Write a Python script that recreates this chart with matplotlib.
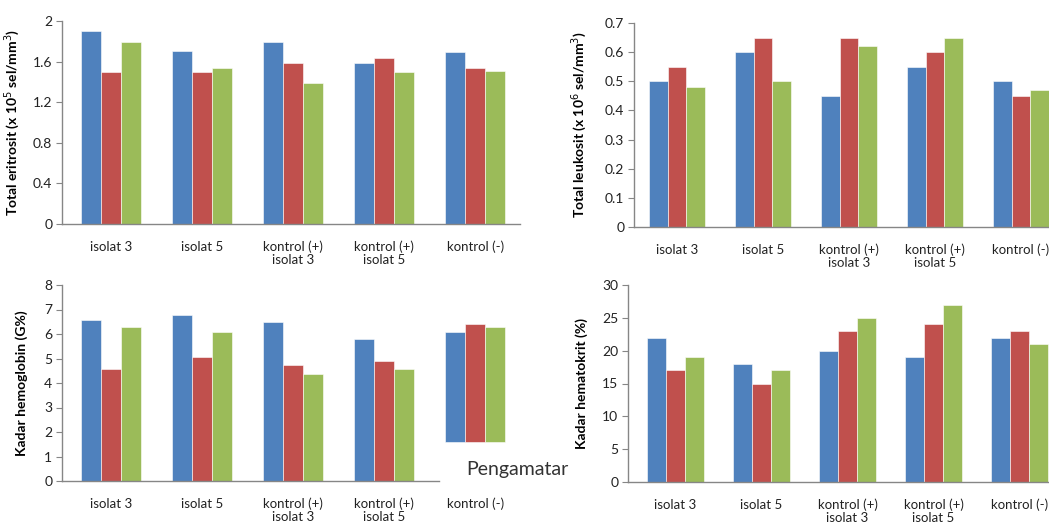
import numpy as np
import matplotlib
matplotlib.use("Agg")
import matplotlib.pyplot as plt
from matplotlib.patches import Rectangle

categories = ["isolat 3", "isolat 5", "kontrol (+)\nisolat 3", "kontrol (+)\nisolat 5", "kontrol (-)"]

# total eritrosit (x 10^5 sel/mm3)
eri_blue = [1.9, 1.7, 1.79, 1.59, 1.69]
eri_red = [1.5, 1.5, 1.59, 1.64, 1.54]
eri_green = [1.79, 1.54, 1.39, 1.5, 1.51]

# total leukosit (x 10^6 sel/mm3)
leu_blue = [0.5, 0.6, 0.45, 0.55, 0.5]
leu_red = [0.55, 0.65, 0.65, 0.6, 0.45]
leu_green = [0.48, 0.5, 0.62, 0.65, 0.47]

# kadar hemoglobin (G%)
hb_blue = [6.57, 6.77, 6.47, 5.79, 6.09]
hb_red = [4.59, 5.05, 4.75, 4.89, 6.39]
hb_green = [6.27, 6.09, 4.37, 4.59, 6.27]
hb_base = [0, 0, 0, 0, 1.6]   # last group is a pasted piece floating above the axis

# kadar hematokrit (%)
ht_blue = [22, 18, 20, 19, 22]
ht_red = [17, 15, 23, 24, 23]
ht_green = [19, 17, 25, 27, 21]

colors = ["#4F81BD", "#C0504D", "#9BBB59"]
W, H = 1049, 529

plt.rcParams["font.family"] = ["Lato", "DejaVu Sans"]

fig = plt.figure(figsize=(W / 100, H / 100), dpi=100)


def make_ax(left, right, top, bottom, z=0):
    ax = fig.add_axes([left / W, 1 - bottom / H, (right - left) / W, (bottom - top) / H])
    ax.set_zorder(z)
    ax.patch.set_alpha(0)
    return ax


def draw(ax, series, ylim, yticks, ylabel, xlim, labelx, base=None, fmt=None):
    x = np.arange(len(categories))
    bw = 0.22
    for i, vals in enumerate(series):
        vals = np.array(vals, dtype=float)
        b = np.zeros_like(vals) if base is None else np.array(base, dtype=float)
        ax.bar(x + (i - 1) * bw, vals - b, bw, bottom=b, color=colors[i],
               edgecolor="white", linewidth=0.4, zorder=2)
    ax.set_xlim(*xlim)
    ax.set_ylim(*ylim)
    ax.set_yticks(yticks)
    if fmt:
        ax.set_yticklabels([fmt(v) for v in yticks])
    ax.set_xticks(x)
    ax.set_xticklabels(categories, fontsize=9.5, color="#222222", linespacing=1.1)
    ax.tick_params(axis="x", length=0, pad=12)
    ax.tick_params(axis="y", length=4, width=0.8, color="#868686", labelsize=10,
                   labelcolor="#222222", pad=3)
    for s in ["top", "right"]:
        ax.spines[s].set_visible(False)
    for s in ["left", "bottom"]:
        ax.spines[s].set_color("#868686")
        ax.spines[s].set_linewidth(1.0)
    ax.set_ylabel(ylabel, fontsize=10, fontweight="bold", color="black")
    ax.yaxis.set_label_coords(labelx, 0.5)


def gfmt(v):
    return ("%g" % v)


ax1 = make_ax(62, 520, 21, 224)
draw(ax1, [eri_blue, eri_red, eri_green], (0, 2), [0, 0.4, 0.8, 1.2, 1.6, 2],
     "Total eritrosit (x 10$^5$ sel/mm$^3$)", (-0.54, 4.49), -0.088, fmt=gfmt)

ax2 = make_ax(634, 1064, 23, 227)
draw(ax2, [leu_blue, leu_red, leu_green], (0, 0.7), np.arange(0, 0.71, 0.1),
     "Total leukosit (x 10$^6$ sel/mm$^3$)", (-0.5, 4.5), -0.105, fmt=gfmt)
ax2.get_xticklabels()[-1].set_x(3.93)

# white strip: the bottom pictures cover the second line of top-right labels
fig.add_artist(Rectangle((530 / W, 1 - 284 / H), 519 / W, 17 / H,
                         transform=fig.transFigure, color="white", zorder=1))

ax3 = make_ax(62, 520, 285, 481, z=2)
draw(ax3, [hb_blue, hb_red, hb_green], (0, 8), range(0, 9),
     "Kadar hemoglobin (G%)", (-0.54, 4.49), -0.074, base=hb_base)
ax3.spines["bottom"].set_bounds(-0.54, 3.6)

ax4 = make_ax(628, 1060, 285, 482, z=2)
draw(ax4, [ht_blue, ht_red, ht_green], (0, 30), range(0, 31, 5),
     "Kadar hematokrit (%)", (-0.55, 4.47), -0.093)

fig.text(517 / W, 1 - 470 / H, "Pengamatar", fontsize=14, color="#333333",
         ha="center", va="center", zorder=3)

fig.savefig("out.png", dpi=100)
